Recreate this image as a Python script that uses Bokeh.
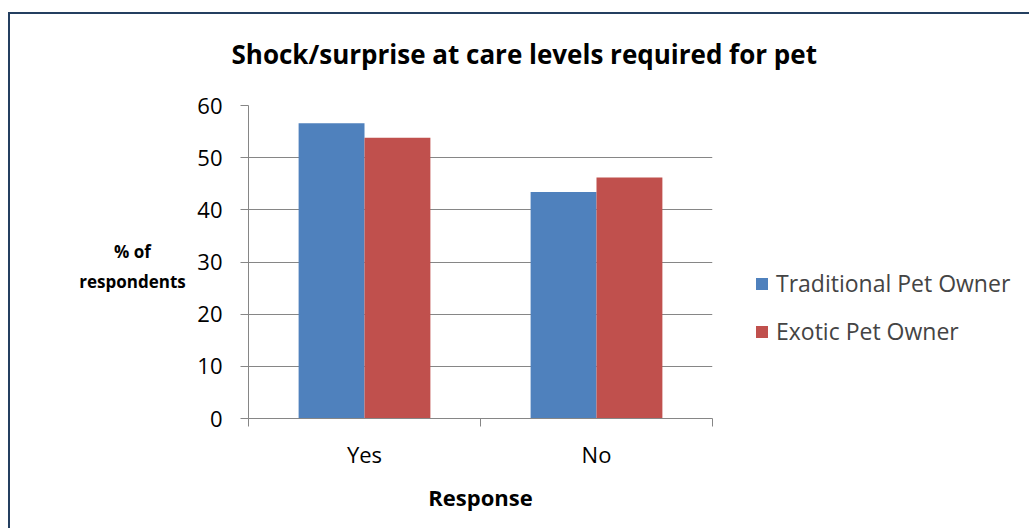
from bokeh.plotting import figure
from bokeh.models import (Range1d, FixedTicker, Legend, LegendItem, ColumnDataSource, Label)
from bokeh.embed import file_html
from bokeh.resources import INLINE

# ---- data ----
categories = ["Yes", "No"]
traditional = [56.6, 43.4]
exotic = [53.8, 46.2]
series_names = ["Traditional Pet Owner", "Exotic Pet Owner"]
y_ticks = [0, 10, 20, 30, 40, 50, 60]

title_text = "Shock/surprise at care levels required for pet"
x_label = "Response"
y_label = "% of\nrespondents"

BLUE = "#4F81BD"
RED = "#C0504D"
GRID = "#868686"
FONT = "Open Sans"

bar_w = 0.284
centers = [i + 0.5 for i in range(len(categories))]

src_t = ColumnDataSource(dict(x=[c - bar_w / 2 for c in centers], top=traditional))
src_e = ColumnDataSource(dict(x=[c + bar_w / 2 for c in centers], top=exotic))

p = figure(width=1005, height=514, output_backend="svg", toolbar_location=None,
           x_range=Range1d(0, len(categories)), y_range=Range1d(0, 60),
           frame_width=464, frame_height=313,
           min_border_left=238, min_border_top=91, min_border_bottom=110,
           min_border_right=303)

r_t = p.vbar(x="x", top="top", width=bar_w, source=src_t, fill_color=BLUE, line_color=None)
r_e = p.vbar(x="x", top="top", width=bar_w, source=src_e, fill_color=RED, line_color=None)

# chart title (canvas units, in the top panel so it is not clipped)
title = Label(x=219, y=37, x_units="canvas", y_units="canvas", text=title_text,
              text_align="left", text_baseline="alphabetic", text_font=FONT,
              text_font_style="bold", text_font_size="26px", text_color="black")
p.add_layout(title, "above")

p.outline_line_color = None
p.background_fill_color = "white"
p.border_fill_color = "white"

# grid
p.xgrid.grid_line_color = None
p.ygrid.ticker = FixedTicker(ticks=y_ticks)
p.ygrid.grid_line_color = GRID
p.ygrid.grid_line_width = 1

# y axis
ya = p.yaxis[0]
ya.ticker = FixedTicker(ticks=y_ticks)
ya.axis_line_color = GRID
ya.major_tick_line_color = GRID
ya.major_tick_out = 8
ya.major_tick_in = 0
ya.minor_tick_line_color = None
ya.major_label_text_font = FONT
ya.major_label_text_font_size = "22px"
ya.major_label_text_color = "black"
ya.major_label_standoff = 18

# y-axis title, horizontal and centred, left of the tick labels
ylab = Label(x=120, y=250, x_units="canvas", y_units="canvas", text=y_label,
             text_align="center", text_baseline="middle", text_font=FONT,
             text_font_style="bold", text_font_size="17px", text_color="black",
             text_line_height=1.3)
p.add_layout(ylab, "left")

# x axis: labels at category centres, tick marks at category boundaries
xa = p.xaxis[0]
xa.ticker = FixedTicker(ticks=centers, minor_ticks=list(range(len(categories) + 1)))
xa.major_label_overrides = {c: cat for c, cat in zip(centers, categories)}
xa.axis_line_color = GRID
xa.major_tick_line_color = None
xa.major_tick_out = 0
xa.major_tick_in = 0
xa.minor_tick_line_color = GRID
xa.minor_tick_out = 8
xa.minor_tick_in = 0
xa.major_label_text_font = FONT
xa.major_label_text_font_size = "22px"
xa.major_label_text_color = "black"
xa.major_label_standoff = 12
xa.axis_label = x_label
xa.axis_label_text_font = FONT
xa.axis_label_text_font_style = "bold"
xa.axis_label_text_font_size = "22px"
xa.axis_label_text_color = "black"
xa.axis_label_standoff = 10

legend = Legend(items=[LegendItem(label=series_names[0], renderers=[r_t]),
                       LegendItem(label=series_names[1], renderers=[r_e])],
                location=(42, 71), orientation="vertical",
                glyph_width=15, glyph_height=15, label_standoff=7,
                label_text_font=FONT, label_text_font_size="23px",
                label_height=20, spacing=16, padding=0, margin=0,
                border_line_color=None, background_fill_alpha=0)
p.add_layout(legend, "right")

p.styles = {"border-top": "2px solid #243F60", "border-left": "2px solid #243F60",
            "margin-top": "12px", "margin-left": "8px"}

open("out.html", "w").write(file_html(p, INLINE))
